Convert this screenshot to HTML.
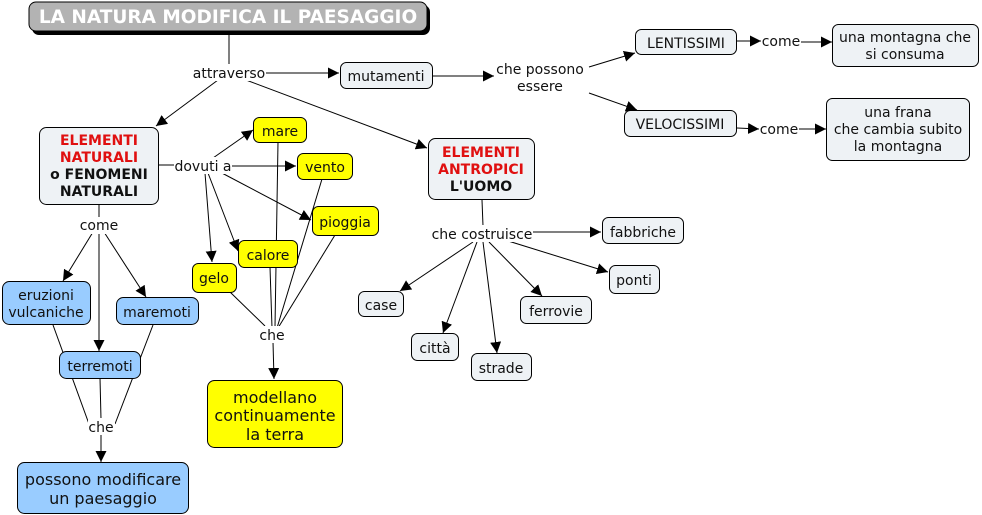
<!DOCTYPE html>
<html><head><meta charset="utf-8"><style>
html,body{margin:0;padding:0;background:#fff;}
svg{display:block;}
text{font-family:"DejaVu Sans","Liberation Sans",sans-serif;font-size:14px;fill:#111;}
.b{font-weight:bold;}
.r{fill:#e01010;}
.L{font-size:16px;}
</style></head><body>
<svg width="982" height="515" viewBox="0 0 982 515" xmlns="http://www.w3.org/2000/svg">
<defs>
<marker id="a" viewBox="0 0 10 10" refX="10" refY="5" markerWidth="11" markerHeight="11" markerUnits="userSpaceOnUse" orient="auto">
<path d="M0,0 L10,5 L0,10 z" fill="#000"/>
</marker>
</defs>
<g stroke="#000" stroke-width="1" fill="none">
<line x1="229" y1="32" x2="229" y2="64"/>
<line x1="266" y1="73" x2="339" y2="73" marker-end="url(#a)"/>
<line x1="218" y1="80" x2="156" y2="126" marker-end="url(#a)"/>
<line x1="246" y1="80" x2="427" y2="148" marker-end="url(#a)"/>
<line x1="433" y1="76" x2="494" y2="76" marker-end="url(#a)"/>
<line x1="589" y1="67" x2="635" y2="53" marker-end="url(#a)"/>
<line x1="589" y1="93" x2="637" y2="110" marker-end="url(#a)"/>
<line x1="737" y1="41" x2="761" y2="41" marker-end="url(#a)"/>
<line x1="801" y1="42" x2="832" y2="42" marker-end="url(#a)"/>
<line x1="737" y1="128" x2="759" y2="129" marker-end="url(#a)"/>
<line x1="799" y1="129" x2="826" y2="129" marker-end="url(#a)"/>
<line x1="482" y1="200" x2="483" y2="226"/>
<line x1="533" y1="232" x2="601" y2="232" marker-end="url(#a)"/>
<line x1="505" y1="240" x2="608" y2="272" marker-end="url(#a)"/>
<line x1="473" y1="242" x2="400" y2="291" marker-end="url(#a)"/>
<line x1="477" y1="242" x2="443" y2="333" marker-end="url(#a)"/>
<line x1="483" y1="242" x2="497" y2="353" marker-end="url(#a)"/>
<line x1="489" y1="242" x2="542" y2="296" marker-end="url(#a)"/>
<line x1="158" y1="165" x2="175" y2="165"/>
<line x1="213" y1="158" x2="253" y2="130" marker-end="url(#a)"/>
<line x1="232" y1="166" x2="296" y2="166" marker-end="url(#a)"/>
<line x1="220" y1="172" x2="311" y2="220" marker-end="url(#a)"/>
<line x1="208" y1="173" x2="238" y2="251" marker-end="url(#a)"/>
<line x1="205" y1="173" x2="212" y2="262" marker-end="url(#a)"/>
<line x1="278" y1="142" x2="275" y2="327"/>
<line x1="322" y1="179" x2="277" y2="328"/>
<line x1="335" y1="235" x2="278" y2="328"/>
<line x1="270" y1="267" x2="272" y2="328"/>
<line x1="230" y1="292" x2="265" y2="326"/>
<line x1="273" y1="342" x2="274" y2="379" marker-end="url(#a)"/>
<line x1="99" y1="204" x2="99" y2="218"/>
<line x1="93" y1="232" x2="63" y2="281" marker-end="url(#a)"/>
<line x1="99" y1="232" x2="99" y2="351" marker-end="url(#a)"/>
<line x1="104" y1="232" x2="146" y2="297" marker-end="url(#a)"/>
<line x1="53" y1="325" x2="89" y2="424"/>
<line x1="153" y1="325" x2="115" y2="424"/>
<line x1="100" y1="378" x2="101" y2="419"/>
<line x1="101" y1="434" x2="101" y2="462" marker-end="url(#a)"/>
</g>
<g fill="#fff">
<rect x="190" y="64" width="76" height="17"/>
<rect x="174" y="157" width="58" height="17"/>
<rect x="80" y="217" width="39" height="17"/>
<rect x="259" y="326" width="27" height="17"/>
<rect x="88" y="418" width="27" height="17"/>
<rect x="430" y="225" width="103" height="17"/>
<rect x="494" y="60" width="92" height="34"/>
<rect x="761" y="33" width="40" height="16"/>
<rect x="759" y="120" width="40" height="16"/>
</g>
<rect x="32" y="5" width="398" height="30" rx="7" fill="#000"/>
<rect x="29" y="2" width="398" height="29" rx="7" fill="#b3b3b3" stroke="#000"/>
<text x="228" y="23" text-anchor="middle" class="b" style="font-size:18.5px;fill:#fff">LA NATURA MODIFICA IL PAESAGGIO</text>
<g fill="#eef2f5" stroke="#000">
<rect x="340.5" y="62.5" width="92" height="26" rx="6"/>
<rect x="635.5" y="29.5" width="101" height="25" rx="6"/>
<rect x="832.5" y="24.5" width="146" height="42" rx="6"/>
<rect x="624.5" y="110.5" width="112" height="26" rx="6"/>
<rect x="826.5" y="98.5" width="143" height="62" rx="6"/>
<rect x="39.5" y="127.5" width="119" height="77" rx="7"/>
<rect x="428.5" y="138.5" width="106" height="61" rx="7"/>
<rect x="602.5" y="217.5" width="81" height="26" rx="6"/>
<rect x="609.5" y="265.5" width="50" height="28" rx="6"/>
<rect x="358.5" y="291.5" width="45" height="25" rx="6"/>
<rect x="411.5" y="333.5" width="47" height="27" rx="6"/>
<rect x="471.5" y="353.5" width="60" height="27" rx="6"/>
<rect x="520.5" y="296.5" width="71" height="27" rx="6"/>
</g>
<g fill="#ffff00" stroke="#000">
<rect x="253.5" y="117.5" width="53" height="25" rx="6"/>
<rect x="297.5" y="153.5" width="55" height="26" rx="6"/>
<rect x="312.5" y="206.5" width="66" height="29" rx="6"/>
<rect x="238.5" y="240.5" width="59" height="27" rx="6"/>
<rect x="192.5" y="263.5" width="44" height="29" rx="6"/>
<rect x="207.5" y="380.5" width="135" height="67" rx="7"/>
</g>
<g fill="#99ccff" stroke="#000">
<rect x="2.5" y="281.5" width="88" height="43" rx="7"/>
<rect x="116.5" y="297.5" width="82" height="27" rx="7"/>
<rect x="59.5" y="351.5" width="81" height="27" rx="7"/>
<rect x="17.5" y="462.5" width="171" height="51" rx="7"/>
</g>
<g text-anchor="middle">
<text x="229" y="78">attraverso</text>
<text x="386" y="81">mutamenti</text>
<text x="540" y="74">che possono</text>
<text x="540" y="91">essere</text>
<text x="686" y="48">LENTISSIMI</text>
<text x="781" y="46">come</text>
<text x="905" y="42">una montagna che</text>
<text x="905" y="59">si consuma</text>
<text x="680" y="129">VELOCISSIMI</text>
<text x="779" y="134">come</text>
<text x="898" y="117">una frana</text>
<text x="898" y="134">che cambia subito</text>
<text x="898" y="151">la montagna</text>
<text x="99" y="145" class="b r">ELEMENTI</text>
<text x="99" y="162" class="b r">NATURALI</text>
<text x="99" y="179" class="b">o FENOMENI</text>
<text x="99" y="196" class="b">NATURALI</text>
<text x="481" y="157" class="b r">ELEMENTI</text>
<text x="481" y="174" class="b r">ANTROPICI</text>
<text x="481" y="191" class="b">L'UOMO</text>
<text x="203" y="171">dovuti a</text>
<text x="280" y="136">mare</text>
<text x="325" y="172">vento</text>
<text x="345" y="227">pioggia</text>
<text x="268" y="260">calore</text>
<text x="214" y="283">gelo</text>
<text x="272" y="340">che</text>
<text x="275" y="403" class="L">modellano</text>
<text x="275" y="421" class="L">continuamente</text>
<text x="275" y="440" class="L">la terra</text>
<text x="99" y="230">come</text>
<text x="46" y="300">eruzioni</text>
<text x="46" y="317">vulcaniche</text>
<text x="157" y="317">maremoti</text>
<text x="100" y="371">terremoti</text>
<text x="101" y="432">che</text>
<text x="103" y="485" class="L">possono modificare</text>
<text x="103" y="504" class="L">un paesaggio</text>
<text x="482" y="239">che costruisce</text>
<text x="643" y="237">fabbriche</text>
<text x="634" y="285">ponti</text>
<text x="381" y="310">case</text>
<text x="435" y="353">città</text>
<text x="501" y="373">strade</text>
<text x="556" y="316">ferrovie</text>
</g>
</svg>
</body></html>
